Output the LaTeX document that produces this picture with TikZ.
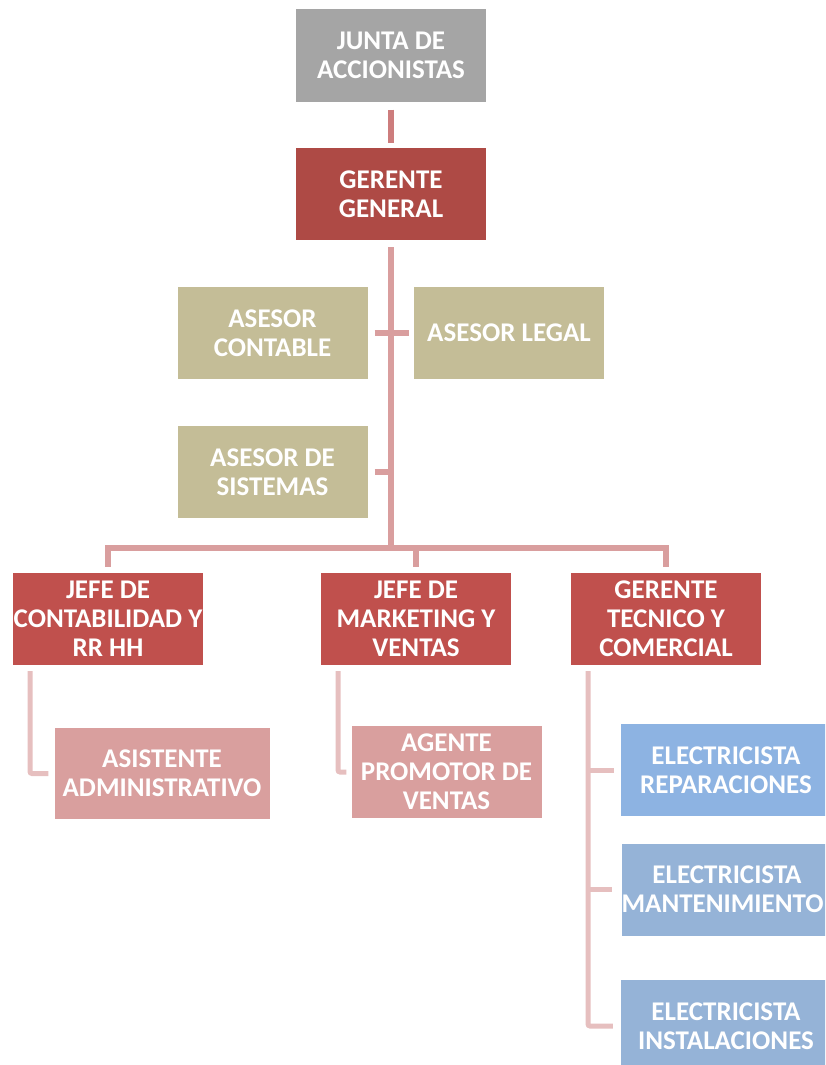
\documentclass[tikz,border=0pt]{standalone}
\usepackage{fontspec}
\setmainfont{Carlito}
\begin{document}
\begin{tikzpicture}[x=1pt,y=-1pt,
  box/.style={rectangle, inner sep=0pt, minimum width=190pt, minimum height=92pt,
    align=center, text=white, font=\bfseries\fontsize{27}{29}\selectfont},
  gray box/.style={box, fill=gray1},
  top box/.style={box, fill=red1},
  adv box/.style={box, fill=tan1},
  head box/.style={box, fill=red2},
  staff box/.style={box, fill=pink1},
  elec box/.style={box, fill=blue2, minimum width=210pt},
  link top/.style={draw=link1, line width=6pt},
  link main/.style={draw=link2, line width=6pt},
  link sub/.style={draw=link3, line width=5pt, rounded corners=2pt}]
\definecolor{gray1}{HTML}{A5A5A5}
\definecolor{red1}{HTML}{AE4A45}
\definecolor{tan1}{HTML}{C4BD97}
\definecolor{red2}{HTML}{C0504D}
\definecolor{pink1}{HTML}{D99F9E}
\definecolor{blue1}{HTML}{8DB3E2}
\definecolor{blue2}{HTML}{95B3D7}
\definecolor{link1}{HTML}{CD7D7D}
\definecolor{link2}{HTML}{D99E9E}
\definecolor{link3}{HTML}{E6BFBF}

\useasboundingbox (0,0) rectangle (825,1065);
\clip (0,0) rectangle (825,1065);

% boxes
\node[gray box] (junta) at (391,55.5) {JUNTA DE\\ACCIONISTAS};
\node[top box] (gg) at (391,194) {GERENTE\\GENERAL};
\node[adv box] (acont) at (272.5,333) {ASESOR\\CONTABLE};
\node[adv box] (alegal) at (509,333) {ASESOR LEGAL};
\node[adv box] (asis) at (272.5,472) {ASESOR DE\\SISTEMAS};
\node[head box] (jc) at (108,619) {JEFE DE\\\makebox[0pt]{CONTABILIDAD Y}\\RR HH};
\node[head box] (jm) at (416,619) {JEFE DE\\MARKETING Y\\VENTAS};
\node[head box] (gt) at (666,619) {GERENTE\\TECNICO Y\\COMERCIAL};
\node[staff box, minimum width=215pt, minimum height=91pt] (asist) at (162,773.5) {ASISTENTE\\ADMINISTRATIVO};
\node[staff box] (agente) at (446.5,772) {AGENTE\\PROMOTOR DE\\VENTAS};
\node[elec box, fill=blue1] (rep) at (726,770) {ELECTRICISTA\\REPARACIONES};
\node[elec box] (mant) at (727,889.5) {ELECTRICISTA\\\makebox[0pt]{MANTENIMIENTO\hspace{9pt}}};
\node[elec box] (inst) at (726,1026) {ELECTRICISTA\\INSTALACIONES};

% connectors
\coordinate (bus) at (391,548);
\draw[link top] ([yshift=-8pt]junta.south) -- ([yshift=5pt]gg.north);
\draw[link main] ([yshift=-7pt]gg.south) -- (bus);
\draw[link main] ([xshift=7pt]acont.east) -- ([xshift=-5pt]alegal.west);
\draw[link main] ([xshift=7pt]asis.east) -- (asis.east -| bus);
\draw[link main] ([yshift=6pt]jc.north) |- (bus) -| ([yshift=6pt]gt.north);
\draw[link main] (bus -| jm.north) -- ([yshift=6pt]jm.north);

\draw[link sub] ([xshift=-78pt,yshift=-6pt]jc.south) |- ([xshift=-6pt]asist.west);
\draw[link sub] ([xshift=-78pt,yshift=-6pt]jm.south) |- ([xshift=-5pt]agente.west);
\coordinate (etr) at ([xshift=-78pt,yshift=-6pt]gt.south);
\draw[link sub] (etr) |- ([xshift=-8pt]inst.west);
\draw[link sub] (rep.west -| etr) -- ([xshift=-7pt]rep.west);
\draw[link sub] (mant.west -| etr) -- ([xshift=-10pt]mant.west);
\end{tikzpicture}
\end{document}
